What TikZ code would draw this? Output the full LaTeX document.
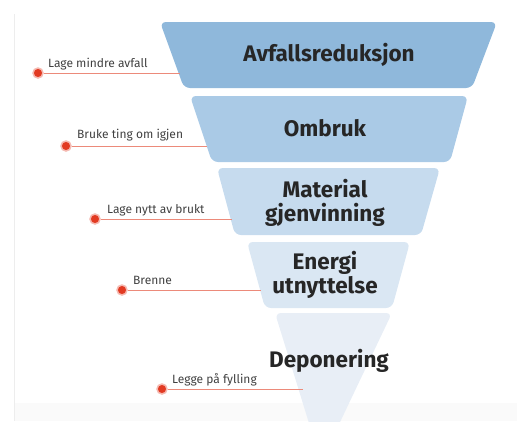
\documentclass[tikz,border=0pt]{standalone}
\usepackage{fontspec}
\setmainfont{Fira Sans}
\definecolor{lvlA}{HTML}{8FB8DB}
\definecolor{lvlB}{HTML}{AACAE6}
\definecolor{lvlC}{HTML}{C6DBEE}
\definecolor{lvlD}{HTML}{DAE7F3}
\definecolor{lvlE}{HTML}{E8EEF6}
\definecolor{dotred}{HTML}{E23A22}
\definecolor{linered}{HTML}{EC8A7A}
\tikzset {
    level/.style = {rounded corners = 6pt},
    title/.style = {font = \bfseries\fontsize{22.5}{24}\selectfont, text = black!85, align = center},
    note/.style = {font = \fontsize{12}{14}\selectfont, text = black!75, anchor = base west, inner sep = 0pt},
    dot/.style = {circle, fill = dotred, draw = dotred!35, line width = 1.5pt, inner sep = 0pt, minimum size = 10pt},
    leader/.style = {draw = linered, line width = 0.9pt},
}
\begin{document}
\begin{tikzpicture}[x = 1pt, y = -1pt]
    \useasboundingbox (0, 0) rectangle (517, 421);
    \fill[black!2] (14, 403) rectangle (517, 421);
    \draw[black!7, line width = 1pt] (14, 14) -- (14, 421);
    % the five levels
    \fill[lvlA, level] (160, 22) -- (497, 22) -- (472, 88) -- (184, 88) -- cycle;
    \fill[lvlB, level] (190, 96) -- (468, 96) -- (450, 162) -- (212, 162) -- cycle;
    \fill[lvlC, level] (217, 168) -- (440, 168) -- (421, 235) -- (235, 235) -- cycle;
    \fill[lvlD, level] (247, 242) -- (410, 242) -- (392, 308) -- (265, 308) -- cycle;
    \fill[lvlE, level] (275, 313) -- (392, 313) -- (321, 462) -- cycle;
    \node (t1) [title] at (329, 55) {Avfallsreduksjon};
    \node (t2) [title] at (325, 128) {Ombruk};
    \node (t3) [title] at (325, 203) {Material\\gjenvinning};
    \node (t4) [title] at (325, 275) {Energi\\utnyttelse};
    \node (t5) [title] at (329, 361) {Deponering};
    % leaders
    \node (d1) [dot] at (38, 73) {};
    \coordinate (e1) at (180, 73);
    \draw[leader] (d1) -- (e1);
    \node (n1) [note] at (48, 67) {Lage mindre avfall};
    \node (d2) [dot] at (66, 146) {};
    \coordinate (e2) at (207, 146);
    \draw[leader] (d2) -- (e2);
    \node (n2) [note] at (77, 138) {Bruke ting om igjen};
    \node (d3) [dot] at (95, 219) {};
    \coordinate (e3) at (232, 219);
    \draw[leader] (d3) -- (e3);
    \node (n3) [note] at (107, 213) {Lage nytt av brukt};
    \node (d4) [dot] at (122, 290) {};
    \coordinate (e4) at (261, 290);
    \draw[leader] (d4) -- (e4);
    \node (n4) [note] at (133, 284) {Brenne};
    \node (d5) [dot] at (162, 389) {};
    \coordinate (e5) at (303, 389);
    \draw[leader] (d5) -- (e5);
    \node (n5) [note] at (172, 383) {Legge på fylling};
\end{tikzpicture}
\end{document}
